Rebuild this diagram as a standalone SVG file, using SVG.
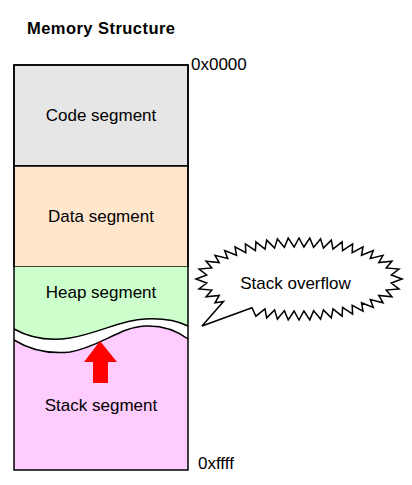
<svg xmlns="http://www.w3.org/2000/svg" width="412" height="485" viewBox="0 0 412 485">
<style>
text{font-family:"Liberation Sans",Arial,sans-serif;fill:#000}
.lbl{font-size:17px;text-anchor:middle}
.addr{font-size:17px}
.seg{stroke:#000;stroke-width:1.5}
.wave{fill:none;stroke:#000;stroke-width:1.5}
</style>
<rect width="412" height="485" fill="#fff"/>
<text x="27" y="34" font-size="16.5" font-weight="bold" textLength="148">Memory Structure</text>
<g id="code"><rect class="seg" x="14" y="65" width="174" height="101" fill="#e6e6e6"/><text class="lbl" x="101" y="121">Code segment</text></g>
<g id="data"><rect class="seg" x="14" y="166" width="174" height="101" fill="#ffe6cc"/><text class="lbl" x="101" y="222">Data segment</text></g>
<g id="heap"><path d="M14,267 L188,267 L188,326 C180,322 165,318 145,319 C120,320 100,333 70,338 C50,341 30,338 14,329 Z" fill="#ccffcc"/>
<path class="wave" d="M188,326 C180,322 165,318 145,319 C120,320 100,333 70,338 C50,341 30,338 14,329"/>
<text class="lbl" x="101" y="298">Heap segment</text></g>
<g id="stack"><path d="M14,340 C30,350 50,354 70,352 C100,347 120,327 145,326 C165,325 180,333 188,339 L188,470 L14,470 Z" fill="#ffccff"/>
<path class="wave" d="M14,340 C30,350 50,354 70,352 C100,347 120,327 145,326 C165,325 180,333 188,339"/>
<text class="lbl" x="101" y="411">Stack segment</text></g>
<rect x="14" y="65" width="174" height="405" fill="none" stroke="#000" stroke-width="1.5"/>
<g id="arrow"><polygon points="100,341 117,362 108,362 108,383 93,383 93,362 84,362" fill="#ff0000"/></g>
<text class="addr" x="191" y="70">0x0000</text>
<text class="addr" x="198" y="469">0xffff</text>
<g id="bubble">
<polygon fill="#fff" stroke="#000" stroke-width="1.5" stroke-linejoin="miter" points="402,279 391.3,275 399,269.1 386.2,267.9 391.9,261.3 378.8,262.6 383,255.3 370.3,258.5 373.3,250.6 361.5,255.3 363,246.9 352.2,252.7 352.6,244 342.6,250.7 342.1,241.8 333,249.2 331.3,240.1 323.4,248.1 320.6,238.9 313.6,247.4 309.8,238.2 303.9,247 299,238 294.1,247 288.2,238.2 284.4,247.4 277.4,238.9 274.6,248.1 266.7,240.1 265,249.2 255.9,241.8 255.4,250.7 245.4,244 245.8,252.7 235,246.9 236.5,255.3 224.7,250.6 227.7,258.5 215,255.3 219.2,262.6 206.1,261.3 211.8,267.9 199,269.1 206.7,275 196,279 206.7,283 199,288.9 211.8,290.1 206.1,296.8 219.2,295.4 215,302.8 223.5,301.5 202,326 252,307.8 255.9,316.2 265,308.8 266.7,317.9 274.6,309.9 277.4,319.1 284.4,310.6 288.2,319.8 294.1,311 299,320 303.9,311 309.8,319.8 313.6,310.6 320.6,319.1 323.4,309.9 331.3,317.9 333,308.8 342.1,316.2 342.6,307.3 352.6,314 352.2,305.3 363,311.1 361.5,302.7 373.3,307.4 370.3,299.5 383,302.8 378.8,295.4 391.9,296.8 386.2,290.1 399,288.9 391.3,283"/>
<text class="lbl" x="295.5" y="289">Stack overflow</text>
</g>
</svg>
